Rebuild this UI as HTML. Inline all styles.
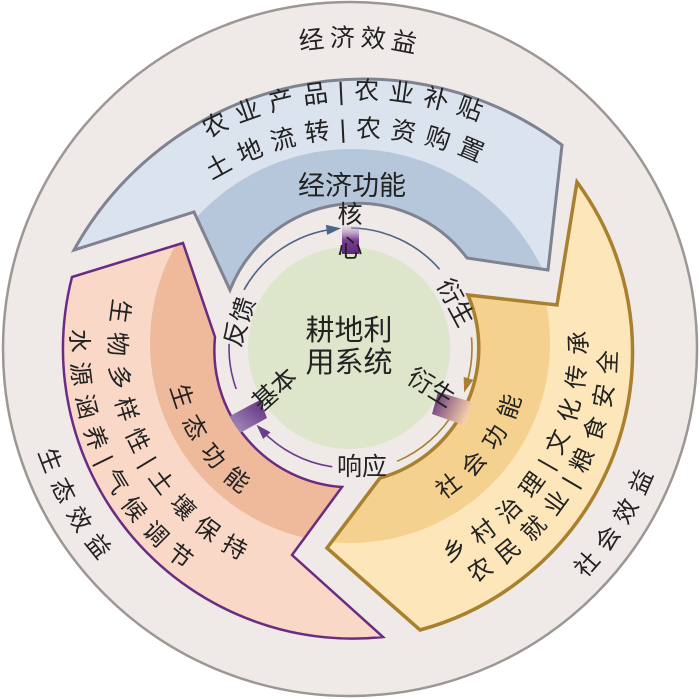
<!DOCTYPE html>
<html><head><meta charset="utf-8"><style>
html,body{margin:0;padding:0;background:#fff;}
svg{display:block;}
text{font-family:"Liberation Sans","Noto Sans CJK SC",sans-serif;fill:#222;}
</style></head><body>
<svg width="700" height="699" viewBox="0 0 700 699" xmlns="http://www.w3.org/2000/svg">
<defs>
<clipPath id="cb"><path d="M74,250 A331,331 0 0 1 562,145 L548,270 L467,258 A137,137 0 0 0 230,290 L194,212 Z"/></clipPath>
<clipPath id="cp"><path d="M183,243 L72,277 A290,290 0 0 0 383,637 L292,555 L342,487 A137,137 0 0 1 215,337 Z"/></clipPath>
<clipPath id="cy"><path d="M577,182 A288,288 0 0 1 420,630 L327,548 L380,478 A135,135 0 0 0 468,295 L557,305 Z"/></clipPath>
<linearGradient id="g1" x1="0" y1="0" x2="0" y2="1"><stop offset="0" stop-color="#c9b3d6" stop-opacity="0.3"/><stop offset="0.5" stop-color="#7a3f93"/><stop offset="1" stop-color="#5e2a78"/></linearGradient>
<linearGradient id="g2" x1="0" y1="1" x2="1" y2="0"><stop offset="0" stop-color="#a996c4"/><stop offset="1" stop-color="#5e2a78"/></linearGradient>
<linearGradient id="g3" x1="0" y1="0" x2="1" y2="0.4"><stop offset="0" stop-color="#5e2a78"/><stop offset="1" stop-color="#f6cfa8"/></linearGradient>
<path id="t0" d="M45.8,284.3 A311,311 0 0 1 657.9,305.7"/>
<path id="t1" d="M36.6,377.9 A328,328 0 0 1 681.8,346.3"/>
<path id="t2" d="M74.3,382.7 A290,290 0 0 1 644.8,354.8"/>
<path id="p1" d="M209.4,160.7 A232,232 0 0 0 416.8,567.8"/>
<path id="p2" d="M190.2,127.6 A270,270 0 0 0 423.4,605.5"/>
<path id="p3" d="M225.3,222.3 A175,175 0 0 0 423.0,504.6"/>
<path id="p4" d="M144.3,103.9 A320,320 0 0 0 459.4,649.8"/>
<path id="y1" d="M273.7,500.6 A172,172 0 0 0 472.7,226.5"/>
<path id="y2" d="M271.5,562.5 A230,230 0 0 0 496.0,169.1"/>
<path id="y3" d="M258.0,589.6 A260,260 0 0 0 517.8,148.4"/>
<path id="y4" d="M226.7,645.3 A321,321 0 0 0 567.0,112.7"/>
</defs>
<circle cx="350" cy="349" r="347" fill="#efe9e8" stroke="#9c9695" stroke-width="2.5"/>

<path d="M74,250 A331,331 0 0 1 562,145 L548,270 L467,258 A137,137 0 0 0 230,290 L194,212 Z" fill="#dbe3ee"/>
<circle cx="352" cy="360" r="211" fill="#b6c7db" clip-path="url(#cb)"/>
<path d="M74,250 A331,331 0 0 1 562,145 L548,270 L467,258 A137,137 0 0 0 230,290 L194,212 Z" fill="none" stroke="#7f8290" stroke-width="3"/>

<path d="M183,243 L72,277 A290,290 0 0 0 383,637 L292,555 L342,487 A137,137 0 0 1 215,337 Z" fill="#f9d8c7"/>
<circle cx="350" cy="343" r="200" fill="#efba9c" clip-path="url(#cp)"/>
<path d="M183,243 L72,277 A290,290 0 0 0 383,637 L292,555 L342,487 A137,137 0 0 1 215,337 Z" fill="none" stroke="#6a2c80" stroke-width="2.5"/>

<path d="M577,182 A288,288 0 0 1 420,630 L327,548 L380,478 A135,135 0 0 0 468,295 L557,305 Z" fill="#fce6ba"/>
<circle cx="350" cy="343" r="200" fill="#f5d18f" clip-path="url(#cy)"/>
<path d="M577,182 A288,288 0 0 1 420,630 L327,548 L380,478 A135,135 0 0 0 468,295 L557,305 Z" fill="none" stroke="#a8802e" stroke-width="3.5"/>

<circle cx="349" cy="348" r="101" fill="#dde6cb"/>

<path d="M244.0,289.8 A120,120 0 0 1 334.4,228.9" fill="none" stroke="#4f6585" stroke-width="1.6"/>
<polygon points="341,228.2 325.9,224.9 327.1,234.9" fill="#4f6585"/>
<path d="M351.1,228.0 A120,120 0 0 1 439.6,269.3" fill="none" stroke="#4f6585" stroke-width="1.6"/>
<path d="M471.5,337.3 A123,123 0 0 1 466.0,386.0" fill="none" stroke="#a8802e" stroke-width="1.6"/>
<polygon points="464.1,392.5 473.3,379.9 463.7,376.9" fill="#a8802e"/>
<path d="M455.5,409.5 A123,123 0 0 1 397.1,461.3" fill="none" stroke="#a8802e" stroke-width="1.6"/>
<path d="M332.3,466.8 A120,120 0 0 1 261.3,429.8" fill="none" stroke="#6a3d8c" stroke-width="1.6"/>
<polygon points="256.5,424.8 263.1,439.0 270.5,432.2" fill="#6a3d8c"/>
<path d="M236.2,389.0 A120,120 0 0 1 229.1,343.8" fill="none" stroke="#6a3d8c" stroke-width="1.6"/>

<rect x="342" y="226" width="17" height="28" fill="url(#g1)"/>
<polygon points="230,416 260,400 267,418 240,433" fill="url(#g2)"/>
<polygon points="438,392 472,402 466,426 432,414" fill="url(#g3)"/>

<text x="349" y="340" font-size="29" text-anchor="middle">耕地利</text>
<text x="349" y="372" font-size="29" text-anchor="middle">用系统</text>

<text x="350" y="223" font-size="25" text-anchor="middle">核</text>
<text x="350" y="257" font-size="25" text-anchor="middle">心</text>
<text x="362" y="475" font-size="25" text-anchor="middle">响应</text>
<text transform="translate(240,322) rotate(-72)" font-size="25" text-anchor="middle" dominant-baseline="central">反馈</text>
<text transform="translate(455,303) rotate(62)" font-size="25" text-anchor="middle" dominant-baseline="central">衍生</text>
<text transform="translate(431,388) rotate(32)" font-size="25" text-anchor="middle" dominant-baseline="central">衍生</text>
<text transform="translate(275,390) rotate(-42)" font-size="25" text-anchor="middle" dominant-baseline="central">基本</text>

<text x="352" y="195" font-size="27" text-anchor="middle">经济功能</text>

<text font-size="25" letter-spacing="6" dominant-baseline="central"><textPath href="#t0" startOffset="50%" text-anchor="middle">经济效益</textPath></text>
<text font-size="25" letter-spacing="10" dominant-baseline="central"><textPath href="#t1" startOffset="50%" text-anchor="middle">农业产品|农业补贴</textPath></text>
<text font-size="25" letter-spacing="10" dominant-baseline="central"><textPath href="#t2" startOffset="50%" text-anchor="middle">土地流转|农资购置</textPath></text>

<text font-size="24" letter-spacing="9" dominant-baseline="central"><textPath href="#p1" startOffset="50%" text-anchor="middle">生物多样性|土壤保持</textPath></text>
<text font-size="24" letter-spacing="9" dominant-baseline="central"><textPath href="#p2" startOffset="50%" text-anchor="middle">水源涵养|气候调节</textPath></text>
<text font-size="24" letter-spacing="10" dominant-baseline="central"><textPath href="#p3" startOffset="50%" text-anchor="middle">生态功能</textPath></text>
<text font-size="24" letter-spacing="9" dominant-baseline="central"><textPath href="#p4" startOffset="50%" text-anchor="middle">生态效益</textPath></text>

<text font-size="24" letter-spacing="10" dominant-baseline="central"><textPath href="#y1" startOffset="50%" text-anchor="middle">社会功能</textPath></text>
<text font-size="24" letter-spacing="10" dominant-baseline="central"><textPath href="#y2" startOffset="50%" text-anchor="middle">乡村治理|文化传承</textPath></text>
<text font-size="24" letter-spacing="10" dominant-baseline="central"><textPath href="#y3" startOffset="50%" text-anchor="middle">农民就业|粮食安全</textPath></text>
<text font-size="24" letter-spacing="9" dominant-baseline="central"><textPath href="#y4" startOffset="50%" text-anchor="middle">社会效益</textPath></text>
</svg>
</body></html>
